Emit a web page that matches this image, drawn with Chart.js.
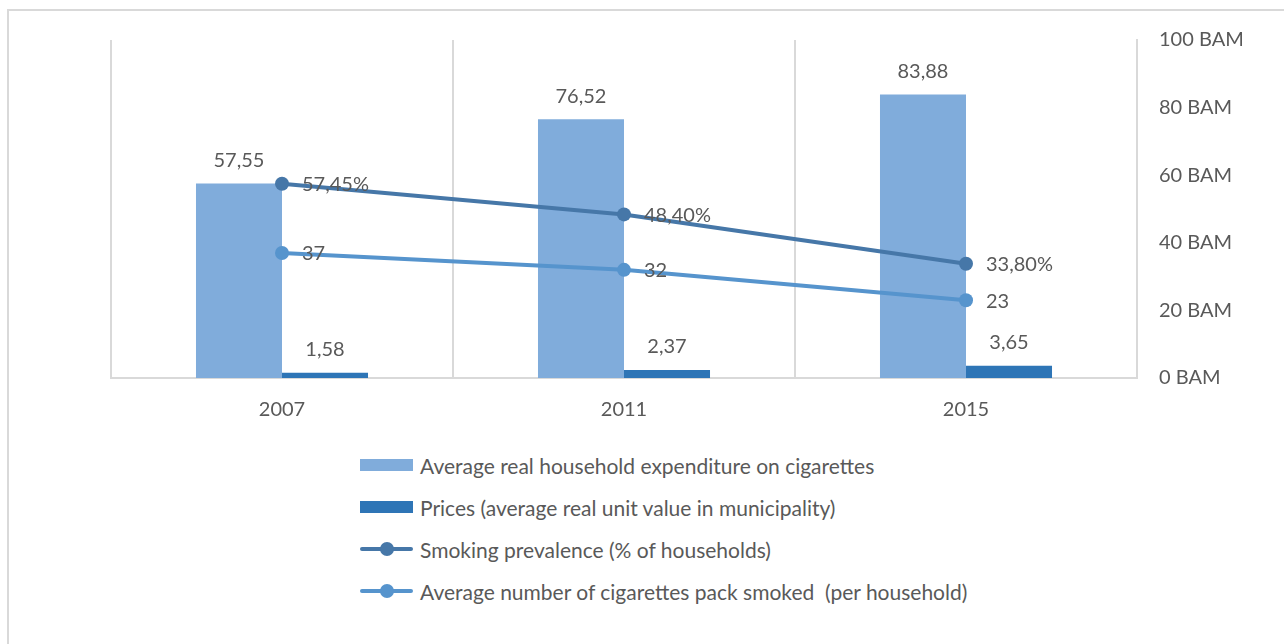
<!DOCTYPE html>
<html>
<head>
<meta charset="utf-8">
<script src="https://cdn.jsdelivr.net/npm/chart.js@4/dist/chart.umd.min.js"></script>
<style>
  html, body { margin: 0; padding: 0; background: #fff; overflow: hidden; }
  body { width: 1284px; height: 644px; position: relative; font-family: Lato, "Open Sans", sans-serif; color: #595959; }
  .frame { position: absolute; left: 7px; top: 9px; width: 1300px; height: 660px; border: 2px solid #d9d9d9; box-sizing: border-box; }
  .wrap { position: absolute; left: 0; top: 0; width: 1284px; height: 440px; }
  #legend { position: absolute; left: 360px; top: 444px; }
  .item { height: 42px; display: flex; align-items: center; font-size: 21px; white-space: pre; }
  .swatch { width: 53px; height: 26px; margin-right: 7px; position: relative; }
  .swatch .box { position: absolute; left: 0; right: 0; top: 7px; height: 12px; }
  .swatch .ln { position: absolute; left: 0; right: 0; top: 11px; height: 4px; border-radius: 2px; }
  .swatch .dot { position: absolute; left: 20px; top: 6px; width: 14px; height: 14px; border-radius: 50%; }
</style>
</head>
<body>
<div class="frame"></div>
<div class="wrap"><canvas id="chart"></canvas></div>
<div id="legend"></div>
<script>
// =========================
// DATA
// =========================
const years = ["2007", "2011", "2015"];
const expenditure = [57.55, 76.52, 83.88];
const prices = [1.58, 2.37, 3.65];
const prevalence = [57.45, 48.40, 33.80];
const packs = [37, 32, 23];
const yTicks = [0, 20, 40, 60, 80, 100];

const seriesNames = [
  "Average real household expenditure on cigarettes",
  "Prices (average real unit value in municipality)",
  "Smoking prevalence (% of households)",
  "Average number of cigarettes pack smoked  (per household)",
];

const colExp = "#80acdb";
const colPrice = "#2e75b6";
const colPrev = "#4677a8";
const colPacks = "#5694cd";
const textColor = "#595959";
const gridColor = "#d9d9d9";
const font = "Lato, 'Open Sans', sans-serif";

const comma = (v) => v.toFixed(2).replace(".", ",");

// =========================
// LABELS PLUGIN
// =========================
const valueLabels = {
  id: "valueLabels",
  afterDatasetsDraw(chart) {
    const ctx = chart.ctx;
    ctx.save();
    ctx.font = "20px " + font;
    ctx.fillStyle = textColor;
    chart.data.datasets.forEach((ds, i) => {
      const meta = chart.getDatasetMeta(i);
      meta.data.forEach((el, j) => {
        const v = ds.data[j];
        if (ds.type === "bar") {
          ctx.textAlign = "center";
          ctx.textBaseline = "middle";
          ctx.fillText(comma(v), el.x, el.y - 23);
        } else {
          ctx.textAlign = "left";
          ctx.textBaseline = "middle";
          const txt = ds.pct ? comma(v) + "%" : String(v);
          ctx.fillText(txt, el.x + 20, el.y + 1);
        }
      });
    });
    ctx.restore();
  },
};

// =========================
// CHART
// =========================
const chart = new Chart(document.getElementById("chart"), {
  data: {
    labels: years,
    datasets: [
      {
        type: "bar",
        label: seriesNames[0],
        data: expenditure,
        backgroundColor: colExp,
        order: 2,
        barPercentage: 1,
        categoryPercentage: 0.503,
      },
      {
        type: "bar",
        label: seriesNames[1],
        data: prices,
        backgroundColor: colPrice,
        order: 2,
        barPercentage: 1,
        categoryPercentage: 0.503,
      },
      {
        type: "line",
        label: seriesNames[2],
        data: prevalence,
        pct: true,
        borderColor: colPrev,
        backgroundColor: colPrev,
        borderWidth: 4,
        pointRadius: 7,
        pointHoverRadius: 7,
        pointBorderWidth: 0,
        order: 0,
      },
      {
        type: "line",
        label: seriesNames[3],
        data: packs,
        borderColor: colPacks,
        backgroundColor: colPacks,
        borderWidth: 4,
        pointRadius: 7,
        pointHoverRadius: 7,
        pointBorderWidth: 0,
        order: 1,
      },
    ],
  },
  options: {
    responsive: true,
    maintainAspectRatio: false,
    animation: false,
    layout: { padding: { left: 111, top: 40, right: 0, bottom: 0 } },
    plugins: {
      legend: { display: false },
      tooltip: { enabled: false },
    },
    scales: {
      x: {
        offset: true,
        grid: { color: gridColor, lineWidth: 2, offset: true, drawTicks: false },
        border: { color: gridColor, width: 2 },
        ticks: { color: textColor, font: { family: font, size: 20 }, padding: 20 },
        afterFit(scale) { scale.height = 62; },
      },
      y: {
        position: "right",
        min: 0,
        max: 100,
        afterBuildTicks(scale) { scale.ticks = yTicks.map((v) => ({ value: v })); },
        grid: { display: false, drawTicks: false },
        border: { color: gridColor, width: 2 },
        ticks: {
          color: textColor,
          font: { family: font, size: 20 },
          padding: 22,
          callback: (v) => v + " BAM",
        },
        afterFit(scale) { scale.width = 147; },
      },
    },
  },
  plugins: [valueLabels],
});

// =========================
// LEGEND
// =========================
const legend = document.getElementById("legend");
chart.data.datasets.forEach((ds) => {
  const item = document.createElement("div");
  item.className = "item";
  const sw = document.createElement("div");
  sw.className = "swatch";
  if (ds.type === "bar") {
    sw.innerHTML = '<div class="box" style="background:' + ds.backgroundColor + '"></div>';
  } else {
    sw.innerHTML =
      '<div class="ln" style="background:' + ds.borderColor + '"></div>' +
      '<div class="dot" style="background:' + ds.borderColor + '"></div>';
  }
  const label = document.createElement("span");
  label.textContent = ds.label;
  item.appendChild(sw);
  item.appendChild(label);
  legend.appendChild(item);
});
</script>
</body>
</html>
